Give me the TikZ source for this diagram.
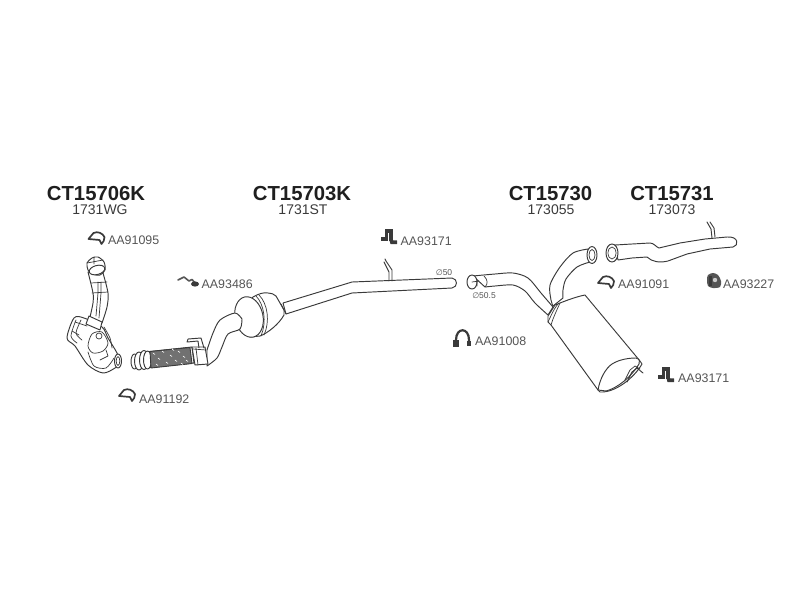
\documentclass[tikz,border=0pt]{standalone}
\usepackage{fontspec}
\setmainfont{Liberation Sans}
\definecolor{ink}{HTML}{3A3A3A}
\definecolor{soft}{HTML}{555555}
\tikzset{
 part/.style={draw=ink,fill=white,line width=.95pt,line join=round,line cap=round},
 thin part/.style={draw=ink,line width=.7pt,line join=round,line cap=round},
 code/.style={font=\bfseries\fontsize{20.3}{22}\selectfont,text=black!88,inner sep=0pt},
 ref/.style={font=\fontsize{14}{16}\selectfont,text=ink,inner sep=0pt},
 acc/.style={font=\fontsize{12.4}{14}\selectfont,text=soft,inner sep=0pt,anchor=west},
 dia/.style={font=\fontsize{8.5}{10}\selectfont,text=soft,inner sep=0pt},
 clampicon/.pic={
  \draw[ink,line width=1.7pt,line join=round,line cap=round] (-8,1) -- (-3,-5) .. controls (1,-7) and (6,-5) .. (8,-1) .. controls (8,2) and (7,4) .. (5,6) -- (3,2) -- (-8,1);
 },
 hangicon/.pic={
  \fill[ink] (-4.5,-7.5) rectangle (3.5,-3.5);
  \fill[ink] (-4.5,-7) rectangle (-0.8,4.5);
  \fill[ink] (0.4,-6) rectangle (3.5,4.5);
  \fill[ink] (-8,0.5) rectangle (-0.8,4.5);
  \fill[ink] (0.4,3.5) -- (8,4) -- (8,7.5) -- (1.5,7.5) -- cycle;
 }
}
\begin{document}
\begin{tikzpicture}[x=1pt,y=-1pt]
\useasboundingbox (0,0) rectangle (800,600);
% ---- labels
\node[code] (c1) at (96,193.5) {CT15706K};
\node[ref] (r1) at (100,209.5) {1731WG};
\node[code] (c2) at (302,193.5) {CT15703K};
\node[ref] (r2) at (303,209.5) {1731ST};
\node[code] (c3) at (550.5,193.5) {CT15730};
\node[ref] (r3) at (551,209.5) {173055};
\node[code] (c4) at (672,193.5) {CT15731};
\node[ref] (r4) at (672,209.5) {173073};
\node[acc] (a1) at (108,240.5) {AA91095};
\node[acc] (a2) at (201.5,284) {AA93486};
\node[acc] (a3) at (139,399) {AA91192};
\node[acc] (a4) at (400.5,241) {AA93171};
\node[acc] (a5) at (475,341) {AA91008};
\node[acc] (a6) at (618,284) {AA91091};
\node[acc] (a7) at (723,284) {AA93227};
\node[acc] (a8) at (678,378) {AA93171};
\node[dia] (d1) at (444,273) {\fontspec{DejaVu Sans}\fontsize{8}{10}\selectfont ∅\fontspec{Liberation Sans}\fontsize{8.5}{10}\selectfont 50};
\node[dia] (d2) at (484,296) {\fontspec{DejaVu Sans}\fontsize{8}{10}\selectfont ∅\fontspec{Liberation Sans}\fontsize{8.5}{10}\selectfont 50.5};
% ---- icons
\pic at (96.5,238) {clampicon};
\pic at (127,395) {clampicon};
\pic at (606,282) {clampicon};
\pic at (389,236.5) {hangicon};
\pic at (666,374.5) {hangicon};
% strip AA93486
\draw[ink!85,line width=1.6pt,line cap=round,line join=round] (178,280) -- (184,277) -- (189,281) -- (192,279.5) -- (196,284);
\fill[ink] (195,284) ellipse (4 and 2.6);
% rubber AA93227
\fill[soft] plot[smooth cycle] coordinates {(708,275) (713,273) (718,275) (721,281) (720,287) (713,288) (708,286) (707,280)};
\fill[ink] (709,276) rectangle (712,286);
\fill[white!70!soft] (715,280) circle (2.2);
% U clamp AA91008
\draw[ink,line width=2.2pt] (456,344) -- (456,340) .. controls (456,327) and (469,327) .. (469,340) -- (469,344);
\fill[ink] (453,340) rectangle (459,347);
\fill[ink] (467,341) rectangle (471,346);
% manifold
\draw[part] plot[smooth] coordinates {(88,272) (93,293) (93,303) (90,317)} -- plot[smooth] coordinates {(102,323) (107,307) (108,293) (103,273)} -- cycle;
\draw[part] plot[smooth cycle] coordinates {(87,263) (92,258) (98,257) (104,262) (105,270) (100,275) (92,274) (88,270)};
\draw[part,rotate around={15:(97,270)}] (97,270) ellipse (8 and 4.5);
\draw[thin part] (87,263) -- (103,260) (94,257) -- (94,264);
\draw[thin part] (91,283) -- (107,282) (92,293) -- (108,292) (98,282) -- (98,293) (101,282) -- (101,293) (98,293) -- (96,316) (101,293) -- (99,318);
\draw[part] plot[smooth cycle] coordinates {(74,318) (67,338) (75,346) (88,365) (103,373) (115,368) (120,363) (117,353) (108,338) (102,327) (84,318)};
\draw[part] (89,316) -- (102,322) -- (100,330) -- (86,324) -- cycle;
\draw[thin part] plot[smooth] coordinates {(76,320) (71,336) (77,343)};
\draw[thin part] plot[smooth] coordinates {(81,320) (76,333) (82,340)};
\draw[thin part] (75,322) -- (87,326) (72,331) -- (79,335);
\draw[thin part,fill=white] plot[smooth cycle] coordinates {(92,334) (88,346) (93,353) (103,351) (108,343) (102,332)};
\draw[thin part] (99,336) circle (3);
\draw[thin part] plot[smooth] coordinates {(88,352) (94,366) (106,368) (114,358)};
\draw[thin part] (100,360) -- (108,356) -- (106,350);
\draw[thin part] plot[smooth] coordinates {(104,327) (110,338) (112,348)};
\draw[part] (118,361) ellipse (3.5 and 7);
\draw[thin part] (118,361) ellipse (1.8 and 4.5);
% middle pipe and catalyst
\draw[part] (283,303) -- (352,282) -- (452,278) .. controls (458,279) and (458,287) .. (452,288) -- (352,293) -- (286,314) -- cycle;
\draw[part] (253,297) .. controls (258,294) and (264,292) .. (268,293) .. controls (271,293) and (274,294) .. (276,296) -- (284,310) -- (284,315) .. controls (279,324) and (268,333) .. (260,336) -- (250,337) -- (240,310) -- cycle;
\draw[thin part] (256,296) .. controls (264,304) and (267,322) .. (261,336);
\draw[thin part] (259,295) .. controls (268,304) and (270,322) .. (264,335);
\draw[thin part] (281,304) -- (286,314);
\draw[part,rotate around={12:(249,317)}] (249,317) ellipse (14 and 20.5);
% front flexible pipe
\draw[part] plot[smooth] coordinates {(207,350) (213,333) (220,320) (235,313) (242,319)} -- plot[smooth] coordinates {(242,319) (240,329) (228,334) (222,347) (217,358) (207,366)} -- cycle;
\draw[part] (145,352) -- (192,347) -- (194,363) -- (145,368) -- cycle;
\draw[part] (134.5,361.5) ellipse (3.5 and 7.5);
\draw[part] (139,361) ellipse (4.5 and 9);
\draw[part] (144,360) ellipse (4.5 and 9.5);
\draw[part] (147.5,360) ellipse (4 and 9);
\draw[ink,fill=ink!72,line width=.9pt,line join=round] (150,351.5) -- (190,347.5) -- (192,363.5) -- (151,368) -- cycle;
\foreach \a/\b in {153/353,158/358,162/351,166/362,170/355,175/360,178/351,183/356,186/360,156/364,172/349,181/363}{
 \draw[white,line width=.6pt,line cap=round] (\a,\b) -- (\a+2,\b+1.5);
}
\draw[part] (192,347) -- (205,347) -- (208,364) -- (195,365) -- cycle;
\draw[thin part] (196,348) -- (198,365) (193,349) -- (206,350);
\draw[part,fill=none] (204,348) -- (201,338) -- (188,339) (188,339) -- (187,342) -- (198,341) -- (199,348);
% hanger on middle pipe
\draw[part,fill=none] (392,281) -- (392,270) -- (386,261) -- (385,259);
\draw[part,fill=none] (389,281) -- (389,272) -- (384,262);
% left rear pipe
\draw[part] plot[smooth] coordinates {(473,276) (495,274) (513,273) (528,278) (541,293) (553,307)} -- plot[smooth] coordinates {(548,315) (535,303) (525,291) (513,285) (495,286) (485,287)} -- cycle;
\draw[part] (472,282) ellipse (5 and 7);
\draw[thin part] (484,276) .. controls (488,280) and (488,284) .. (485,287);
\draw[thin part] (472,282) -- (479,281) (477,281) -- (477,286);
% right rear pipe
\draw[part] plot[smooth] coordinates {(588,249) (573,253) (560,267) (550,285) (551,300) (553,306)} -- plot[smooth] coordinates {(563,298) (563,290) (566,279) (577,267) (590,262)} -- cycle;
\draw[part] (592,255) ellipse (5 and 8.5);
\draw[thin part] (592,255) ellipse (3 and 5.5);
% muffler
\draw[part] (555,305) .. controls (565,301) and (575,297) .. (585,295) -- (640,361) -- (642,364) .. controls (634,378) and (615,393) .. (600,392) -- (598,390) -- (551,325) -- (548,322) -- (548,316) -- cycle;
\draw[thin part] (548,322) .. controls (551,316) and (553,310) .. (558,304);
\draw[thin part] (551,325) .. controls (553,318) and (556,312) .. (560,303);
\draw[part] (598,390) .. controls (600,378) and (606,368) .. (612,364) .. controls (620,359) and (630,358) .. (636,358) .. controls (640,359) and (640,362) .. (639,364) .. controls (632,376) and (618,388) .. (606,391) -- cycle;
\draw[part,fill=none] (627,382) -- (632,372) -- (637,368) -- (643,373);
\draw[thin part] (625,380) -- (630,370) -- (635,366) -- (640,369);
% tail pipe
\draw[part] (615,245) -- (632,244) -- (650,243) .. controls (654,243) and (656,247) .. (659,248) -- (680,243) -- (705,239) -- (727,237) .. controls (739,236) and (739,246) .. (733,247) -- (710,249) -- (687,254) -- (668,261) .. controls (660,263) and (652,262) .. (647,257) -- (632,258) -- (618,260) -- cycle;
\draw[part] (612,253) ellipse (6 and 9);
\draw[thin part] (612,253) ellipse (4 and 6);
\draw[part,fill=none] (710,222) -- (714,228) -- (715,237);
\draw[part,fill=none] (707,222) -- (711,229) -- (712,238);
\end{tikzpicture}
\end{document}
